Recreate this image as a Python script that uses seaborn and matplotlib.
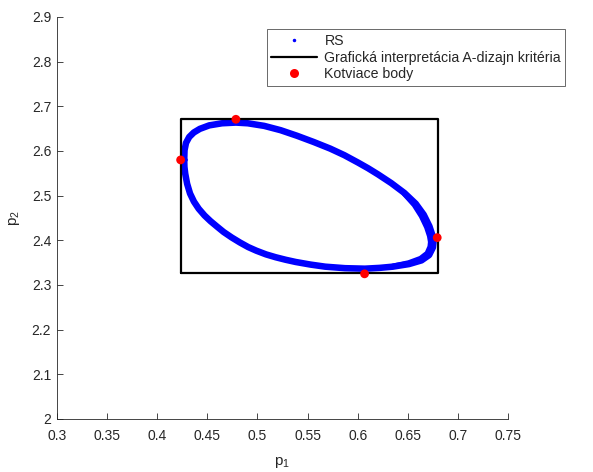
import numpy as np
import pandas as pd
import matplotlib
matplotlib.use('Agg')
import matplotlib.pyplot as plt
import seaborn as sns
from matplotlib.lines import Line2D

# RS - stredna ciara pasu bodov (odcitane z obrazka)
rs_x = [0.42709, 0.42739, 0.42888, 0.43207, 0.43665, 0.44263, 0.45199, 0.46474, 0.47859, 0.49044,
        0.50677, 0.52311, 0.53954, 0.55608, 0.57251, 0.58665, 0.60050, 0.61036, 0.62022, 0.63337,
        0.64651, 0.65777, 0.66574, 0.67141, 0.67450, 0.67550, 0.67490, 0.67112, 0.66355, 0.65110,
        0.63486, 0.62182, 0.60707, 0.58725, 0.56763, 0.55289, 0.53815, 0.52819, 0.51833, 0.50857,
        0.49890, 0.49084, 0.48257, 0.47440, 0.46633, 0.45986, 0.45329, 0.44731, 0.44153, 0.43675,
        0.43287, 0.42998, 0.42809, 0.42729, 0.42709]
rs_y = [2.57988, 2.60159, 2.61816, 2.63137, 2.64144, 2.64950, 2.65734, 2.66204, 2.66360, 2.66204,
        2.65622, 2.64659, 2.63405, 2.62017, 2.60540, 2.59063, 2.57384, 2.56130, 2.54764, 2.52817,
        2.50601, 2.48205, 2.45743, 2.43168, 2.41087, 2.39631, 2.38400, 2.36699, 2.35512, 2.34684,
        2.34102, 2.33833, 2.33654, 2.33766, 2.34102, 2.34572, 2.35154, 2.35647, 2.36206, 2.36856,
        2.37684, 2.38490, 2.39520, 2.40639, 2.41870, 2.43057, 2.44288, 2.45564, 2.47064, 2.48675,
        2.50489, 2.52660, 2.54921, 2.56443, 2.57988]

# RS - hrubsia cast pasu na pravom konci
rs_end_x = [0.64622, 0.65647, 0.66355, 0.66883, 0.67171, 0.67271, 0.67221, 0.66932, 0.66265,
            0.65080, 0.63486]
rs_end_y = [2.50511, 2.47937, 2.45429, 2.42945, 2.40975, 2.39631, 2.38557, 2.37079, 2.35915,
            2.34930, 2.34169]

# kotviace body (vlavo, hore, vpravo, dole)
anchor_x = [0.4235, 0.4786, 0.6792, 0.6068]
anchor_y = [2.580, 2.671, 2.406, 2.325]

# obdlznik A-dizajn kriteria
rect_x = [0.4235, 0.6795, 0.6795, 0.4235, 0.4235]
rect_y = [2.326, 2.326, 2.671, 2.671, 2.326]

x_ticks = [0.3, 0.35, 0.4, 0.45, 0.5, 0.55, 0.6, 0.65, 0.7, 0.75]
y_ticks = [2, 2.1, 2.2, 2.3, 2.4, 2.5, 2.6, 2.7, 2.8, 2.9]

sns.set_style('ticks')
plt.rcParams['font.family'] = ['Liberation Sans', 'DejaVu Sans']
plt.rcParams['mathtext.fontset'] = 'custom'
plt.rcParams['mathtext.rm'] = 'Liberation Sans'
plt.rcParams['mathtext.it'] = 'Liberation Sans'

fig = plt.figure(figsize=(5.93, 4.72), dpi=100)
ax = fig.add_axes([0.0956, 0.1123, 0.7615, 0.8517])

blue = '#0000ff'
rs_df = pd.DataFrame({'x': rs_x, 'y': rs_y})
sns.lineplot(data=rs_df, x='x', y='y', sort=False, estimator=None, color=blue, lw=4.7,
             solid_joinstyle='round', solid_capstyle='round', ax=ax, zorder=2)
end_df = pd.DataFrame({'x': rs_end_x, 'y': rs_end_y})
sns.lineplot(data=end_df, x='x', y='y', sort=False, estimator=None, color=blue, lw=4.0,
             solid_joinstyle='round', solid_capstyle='round', ax=ax, zorder=2)

rect_df = pd.DataFrame({'x': rect_x, 'y': rect_y})
sns.lineplot(data=rect_df, x='x', y='y', sort=False, estimator=None, color='black', lw=1.6, ax=ax, zorder=3)

anchor_df = pd.DataFrame({'x': anchor_x, 'y': anchor_y})
sns.scatterplot(data=anchor_df, x='x', y='y', color='red', s=40, edgecolor='none', ax=ax, zorder=4)

ax.set_xlim(0.3, 0.75)
ax.set_ylim(2, 2.9)
ax.set_xticks(x_ticks)
ax.set_xticklabels([f'{v:g}' for v in x_ticks])
ax.set_yticks(y_ticks)
ax.set_yticklabels([f'{v:g}' for v in y_ticks])
ax.tick_params(direction='in', length=4, width=0.6, colors='#262626', labelsize=10)
ax.tick_params(axis='x', pad=7)
ax.tick_params(axis='y', pad=4)
for s in ['top', 'right']:
    ax.spines[s].set_visible(False)
for s in ['left', 'bottom']:
    ax.spines[s].set_color('#262626')
    ax.spines[s].set_linewidth(0.6)

ax.set_xlabel(r'$\mathregular{p_1}$', fontsize=11, color='#262626', labelpad=9)
ax.set_ylabel(r'$\mathregular{p_2}$', fontsize=11, color='#262626', labelpad=7)

handles = [
    Line2D([], [], ls='none', marker='.', markersize=3, color=blue),
    Line2D([], [], color='black', lw=1.6),
    Line2D([], [], ls='none', marker='o', markersize=6.5, color='red', markeredgecolor='none'),
]
labels = ['RS', 'Grafická interpretácia A-dizajn kritéria', 'Kotviace body']
leg = ax.legend(handles, labels, loc='upper left', bbox_to_anchor=(0.466, 0.969),
                fontsize=10.2, frameon=True, fancybox=False, handlelength=3.2,
                handletextpad=0.55, labelspacing=0.2, borderpad=0.3, borderaxespad=0)
leg.get_frame().set_edgecolor('#262626')
leg.get_frame().set_linewidth(0.6)

fig.savefig('out.png', dpi=100)
